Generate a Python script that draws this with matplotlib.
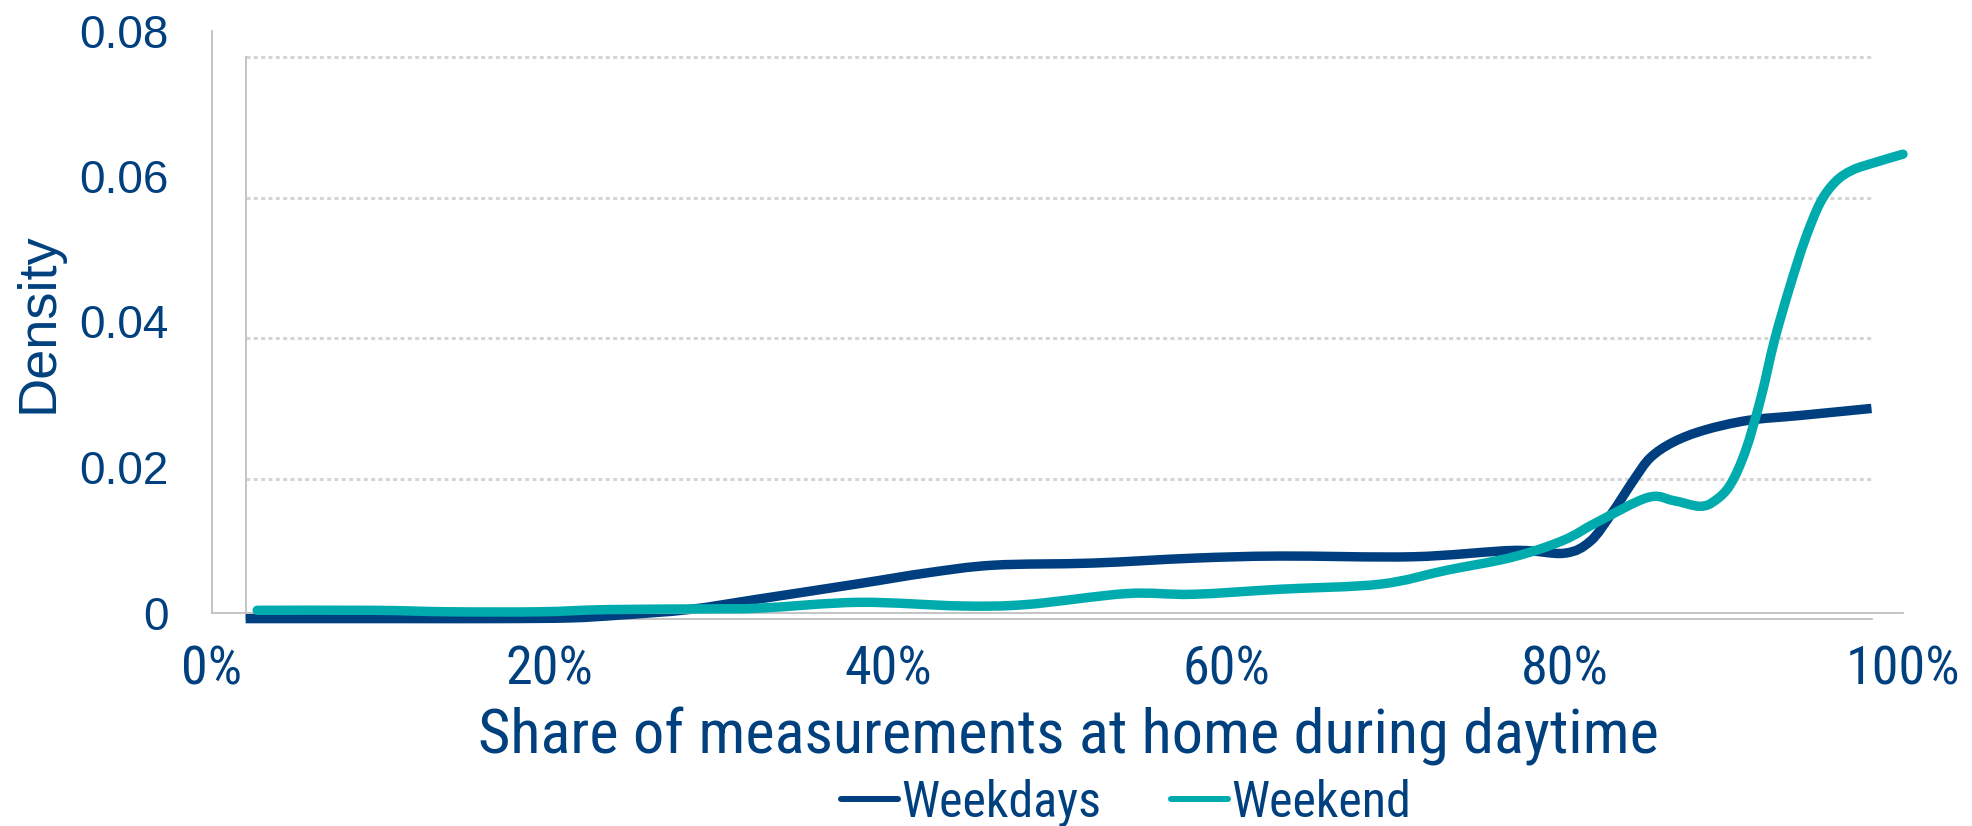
import matplotlib
matplotlib.use("Agg")
import numpy as np
import matplotlib.pyplot as plt
from matplotlib.path import Path
from matplotlib.patches import PathPatch
from matplotlib.lines import Line2D

# ---------------------------------------------------------------- data
x_ticks = [0.0, 0.2, 0.4, 0.6, 0.8, 1.0]
x_tick_labels = ["0%", "20%", "40%", "60%", "80%", "100%"]
y_ticks = [0.0, 0.02, 0.04, 0.06, 0.08]
y_tick_labels = ["0", "0.02", "0.04", "0.06", "0.08"]

weekday_share = [0.000, 0.095, 0.156, 0.200, 0.230, 0.273, 0.316, 0.378,
                 0.419, 0.460, 0.521, 0.583, 0.636, 0.718, 0.780, 0.811,
                 0.827, 0.840, 0.854, 0.864, 0.878, 0.897, 0.924, 0.956,
                 1.000]
weekday_density = [0.0001, 0.0001, 0.0001, 0.0002, 0.0006, 0.0014, 0.0029,
                   0.0051, 0.0066, 0.0077, 0.0080, 0.0087, 0.0090, 0.0089,
                   0.0098, 0.0094, 0.0111, 0.0150, 0.0199, 0.0230, 0.0252,
                   0.0269, 0.0283, 0.0290, 0.0300]

weekend_share = [0.027, 0.096, 0.141, 0.194, 0.234, 0.293, 0.324, 0.383,
                 0.443, 0.482, 0.541, 0.580, 0.632, 0.691, 0.730, 0.769,
                 0.799, 0.819, 0.849, 0.864, 0.880, 0.889, 0.898, 0.907,
                 0.916, 0.924, 0.933, 0.942, 0.951, 0.960, 0.970, 0.984,
                 1.000]
weekend_density = [0.0003, 0.0003, 0.0001, 0.0001, 0.0004, 0.0005, 0.0006,
                   0.0014, 0.0009, 0.0011, 0.0026, 0.0025, 0.0032, 0.0039,
                   0.0058, 0.0076, 0.0099, 0.0124, 0.0158, 0.0154, 0.0146,
                   0.0154, 0.0176, 0.0223, 0.0295, 0.0374, 0.0447, 0.0512,
                   0.0563, 0.0592, 0.0608, 0.0619, 0.0630]

series_labels = ["Weekdays", "Weekend"]

# ---------------------------------------------------------------- style
NAVY = "#003F7F"
TEAL = "#00ABAE"
TEXT = "#00407E"
SPINE = "#BFBFBF"
GRID = "#D5D5D5"
ARIAL = ["Liberation Sans", "DejaVu Sans"]
NARROW = ["Roboto Condensed", "Liberation Sans Narrow", "DejaVu Sans Condensed", "DejaVu Sans"]

W, H = 1972, 826
fig = plt.figure(figsize=(W / 100, H / 100), dpi=100)
fig.patch.set_facecolor("white")


def rect(left, top, right, bottom):
    return [left / W, 1 - bottom / H, (right - left) / W, (bottom - top) / H]


# plot area carrying the gridlines (weekday series)
ax_in = fig.add_axes(rect(245.7, 57, 1871.5, 619.3))
# labelled frame carrying the tick labels (weekend series)
ax_out = fig.add_axes(rect(211.5, 30.5, 1903, 612.5))
ax_in.set_zorder(1)
ax_out.set_zorder(2)
ax_out.patch.set_visible(False)

for ax in (ax_in, ax_out):
    ax.set_xlim(0, 1)
    ax.set_ylim(0, 0.08)
    for side in ("top", "right"):
        ax.spines[side].set_visible(False)
    for side in ("left", "bottom"):
        ax.spines[side].set_color(SPINE)
        ax.spines[side].set_linewidth(1.3)

ax_in.set_xticks([])
ax_in.set_yticks([])
for v in y_ticks[1:]:
    ax_in.axhline(v, color=GRID, lw=2.2, dashes=(1.3, 1.1), clip_on=False, zorder=0)

ax_out.set_xticks(x_ticks)
ax_out.set_xticklabels(x_tick_labels, fontfamily=NARROW, fontsize=39, color=TEXT)
ax_out.set_yticks(y_ticks)
ax_out.set_yticklabels(y_tick_labels, fontfamily=ARIAL, fontsize=33, color=TEXT)
ax_out.tick_params(axis="x", length=0, pad=23)
ax_out.tick_params(axis="y", length=0, pad=31)


def smooth_path(xs, ys):
    """Catmull-Rom curve through the points, expressed as cubic Bezier segments."""
    p = np.column_stack([xs, ys]).astype(float)
    ext = np.vstack([p[0], p, p[-1]])
    verts = [p[0]]
    codes = [Path.MOVETO]
    for i in range(1, len(ext) - 2):
        p0, p1, p2, p3 = ext[i - 1], ext[i], ext[i + 1], ext[i + 2]
        verts += [p1 + (p2 - p0) / 6.0, p2 - (p3 - p1) / 6.0, p2]
        codes += [Path.CURVE4] * 3
    return Path(np.array(verts), codes)


ax_in.add_patch(PathPatch(smooth_path(weekday_share, weekday_density), fill=False,
                          edgecolor=NAVY, lw=6.8, capstyle="butt", joinstyle="round",
                          clip_on=False, zorder=3))
ax_out.add_patch(PathPatch(smooth_path(weekend_share, weekend_density), fill=False,
                           edgecolor=TEAL, lw=6.8, capstyle="round", joinstyle="round",
                           clip_on=False, zorder=4))

# axis titles
fig.text(38 / W, 1 - 323 / H, "Density", rotation=90, ha="center", va="center",
         fontfamily=ARIAL, fontsize=39, color=TEXT)
xlab = fig.text(1068 / W, 1 - 753 / H, "Share of measurements at home during daytime",
                ha="center", va="baseline", fontfamily=NARROW, fontsize=40, color=TEXT)

handles = [Line2D([], [], color=NAVY, lw=4.3, solid_capstyle="round"),
           Line2D([], [], color=TEAL, lw=4.3, solid_capstyle="round")]
leg = fig.legend(handles, series_labels, loc="center", bbox_to_anchor=(1126 / W, 1 - 803 / H),
                 ncol=2, frameon=False, handlelength=1.14, handletextpad=0.07,
                 columnspacing=1.38, borderpad=0, borderaxespad=0,
                 prop={"family": NARROW, "size": 36})
for t in leg.get_texts():
    t.set_color(TEXT)

# fit the x-axis title to its measured span
fig.canvas.draw()
r = fig.canvas.get_renderer()
w = xlab.get_window_extent(r).width
xlab.set_fontsize(40 * 1180 / w)

fig.savefig("out.png", dpi=100)
